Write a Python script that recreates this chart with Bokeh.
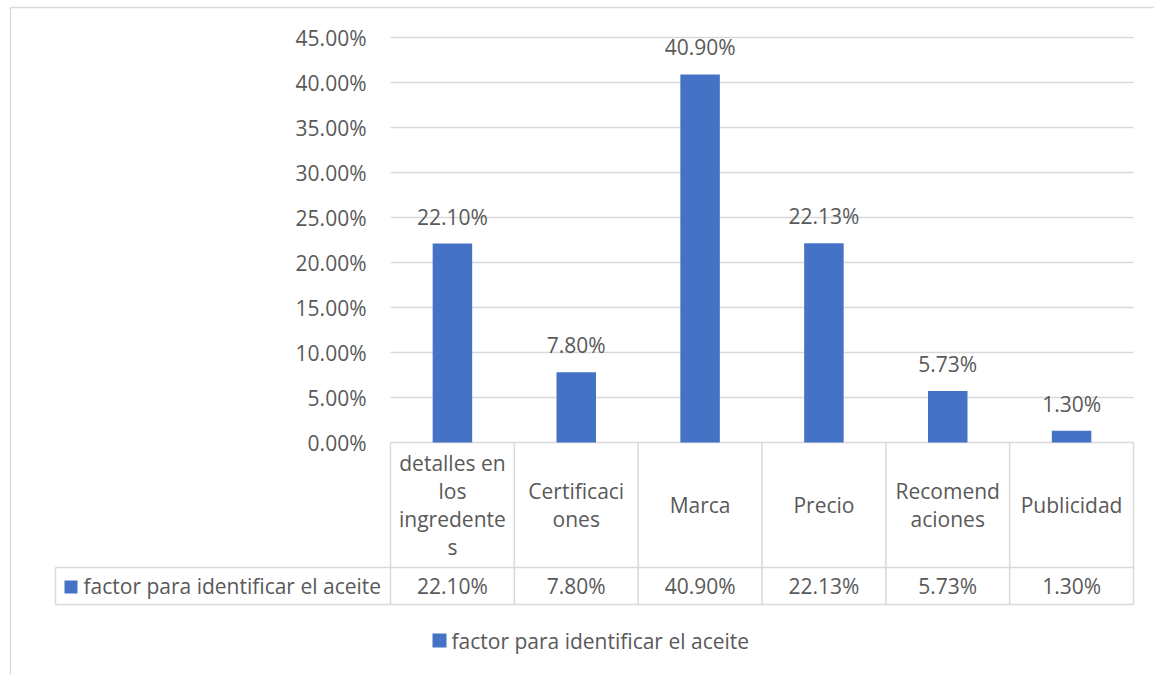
from bokeh.plotting import figure
from bokeh.models import Range1d
from bokeh.core.properties import value
from bokeh.embed import file_html
from bokeh.resources import INLINE

# --- data ---
categories = [
    "detalles en los ingredentes",
    "Certificaciones",
    "Marca",
    "Precio",
    "Recomendaciones",
    "Publicidad",
]
# category text as it wraps inside the table cells
category_lines = [
    ["detalles en", "los", "ingredente", "s"],
    ["Certificaci", "ones"],
    ["Marca"],
    ["Precio"],
    ["Recomend", "aciones"],
    ["Publicidad"],
]
series_name = "factor para identificar el aceite"
values = [22.10, 7.80, 40.90, 22.13, 5.73, 1.30]
tick_values = [0, 5, 10, 15, 20, 25, 30, 35, 40, 45]
tick_labels = ["0.00%", "5.00%", "10.00%", "15.00%", "20.00%",
               "25.00%", "30.00%", "35.00%", "40.00%", "45.00%"]

# --- layout (pixels) ---
W, H = 1154, 675
X0, X1 = 390, 1133          # plot area left / right
Y0 = 442                    # pixel row of 0 %
PX_PER_PCT = 9.0
COL = (X1 - X0) / len(categories)
LINE_PX = 28                # line spacing of wrapped labels

def dx(px):
    return (px - X0) / COL

def dy(py):
    return (Y0 - py) / PX_PER_PCT

FONT = value("Open Sans")
TXT = "#595959"
GRID = "#D9D9D9"
BAR = "#4472C4"
FS = "21px"

p = figure(width=W, height=H, output_backend="svg", toolbar_location=None,
           x_axis_type=None, y_axis_type=None,
           x_range=Range1d(dx(0), dx(W)), y_range=Range1d(dy(H), dy(0)),
           min_border=0, outline_line_color=None)
p.xgrid.visible = False
p.ygrid.visible = False
p.background_fill_color = "white"

# chart area border
p.quad(left=[dx(10)], right=[dx(W + 20)], top=[dy(7)], bottom=[dy(H + 20)],
       fill_color=None, line_color=GRID, line_width=1.3)

# horizontal gridlines
p.segment(x0=[0] * len(tick_values), x1=[len(categories)] * len(tick_values),
          y0=tick_values, y1=tick_values, line_color=GRID, line_width=1.3)

# y tick labels
p.text(x=[dx(366)] * len(tick_values), y=tick_values, text=tick_labels,
       text_font=FONT, text_font_size=FS, text_color=TXT,
       text_align="right", text_baseline="middle")

# bars
xs = [i + 0.5 for i in range(len(categories))]
bar_w = 39.5 / COL
p.vbar(x=xs, top=values, width=bar_w, bottom=0, fill_color=BAR, line_color=None)

# value labels above bars
val_text = [f"{v:.2f}%" for v in values]
p.text(x=xs, y=values, text=val_text, text_font=FONT, text_font_size=FS,
       text_color=TXT, text_align="center", text_baseline="middle", y_offset=-27)

# data table under the axis
row1 = dy(567)
row2 = dy(604)
n = len(categories)
p.segment(x0=list(range(n + 1)), x1=list(range(n + 1)),
          y0=[0] * (n + 1), y1=[row2] * (n + 1), line_color=GRID, line_width=1.5)
p.segment(x0=[dx(55), dx(55)], x1=[n, n], y0=[row1, row2], y1=[row1, row2],
          line_color=GRID, line_width=1.5)
p.segment(x0=[dx(55)], x1=[dx(55)], y0=[row1], y1=[row2],
          line_color=GRID, line_width=1.5)

# category names, one text per wrapped line, centred in the header cell
lx, ly, lt = [], [], []
mid_px = (Y0 + 567) / 2
for i, lines in enumerate(category_lines):
    k = len(lines)
    for j, s in enumerate(lines):
        lx.append(xs[i])
        ly.append(dy(mid_px + (j - (k - 1) / 2) * LINE_PX))
        lt.append(s)
p.text(x=lx, y=ly, text=lt, text_font=FONT, text_font_size=FS,
       text_color=TXT, text_align="center", text_baseline="middle")

p.text(x=xs, y=[(row1 + row2) / 2] * n, text=val_text, text_font=FONT,
       text_font_size=FS, text_color=TXT, text_align="center",
       text_baseline="middle")

# series key inside the table
p.quad(left=[dx(64)], right=[dx(77)], top=[dy(580)], bottom=[dy(593)],
       fill_color=BAR, line_color=None)
p.text(x=[dx(83)], y=[(row1 + row2) / 2], text=[series_name], text_font=FONT,
       text_font_size=FS, text_color=TXT, text_align="left",
       text_baseline="middle")

# legend
p.quad(left=[dx(432)], right=[dx(446)], top=[dy(633)], bottom=[dy(647)],
       fill_color=BAR, line_color=None)
p.text(x=[dx(451)], y=[dy(640)], text=[series_name], text_font=FONT,
       text_font_size=FS, text_color=TXT, text_align="left",
       text_baseline="middle")

open("out.html", "w").write(file_html(p, INLINE))
